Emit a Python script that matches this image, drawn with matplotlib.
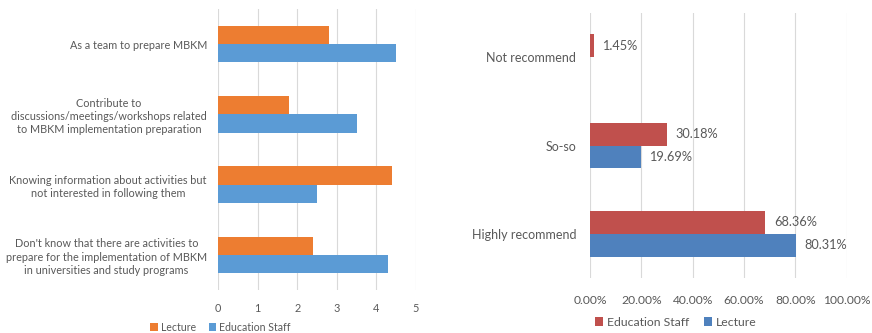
import matplotlib
matplotlib.use('Agg')
import matplotlib.pyplot as plt
import numpy as np

# Left chart data
left_categories = [
    "As a team to prepare MBKM",
    "Contribute to\ndiscussions/meetings/workshops related\nto MBKM implementation preparation",
    "Knowing information about activities but\nnot interested in following them",
    "Don't know that there are activities to\nprepare for the implementation of MBKM\nin universities and study programs",
]
left_lecture = [2.8, 1.8, 4.4, 2.4]
left_staff = [4.5, 3.5, 2.5, 4.3]
left_ticks = [0, 1, 2, 3, 4, 5]

# Right chart data
right_categories = ["Not recommend", "So-so", "Highly recommend"]
right_staff = [1.45, 30.18, 68.36]
right_lecture = [0.0, 19.69, 80.31]
right_ticks = [0, 20, 40, 60, 80, 100]

TEXT = '#595959'
GRID = '#D9D9D9'
plt.rcParams['font.family'] = ['Lato', 'DejaVu Sans']
plt.rcParams['font.size'] = 7.8

fig = plt.figure(figsize=(8.72, 3.33), dpi=100)

# ---- left chart
ax1 = fig.add_axes([0.25, 0.129, 0.227, 0.844])
y = np.arange(len(left_categories))
h = 0.26
ax1.barh(y - h / 2, left_lecture, height=h, color='#ED7D31', label='Lecture', zorder=3)
ax1.barh(y + h / 2, left_staff, height=h, color='#5B9BD5', label='Education Staff', zorder=3)
ax1.set_ylim(3.5, -0.5)
ax1.set_xlim(0, 5)
ax1.set_xticks(left_ticks)
ax1.set_yticks(y)
ax1.set_yticklabels(left_categories, multialignment='center', linespacing=1.25)
ax1.grid(axis='x', color=GRID, linewidth=0.8, zorder=0)
for s in ax1.spines.values():
    s.set_visible(False)
ax1.tick_params(length=0, colors=TEXT, labelsize=7.8)
ax1.tick_params(axis='y', pad=8)
ax1.tick_params(axis='x', pad=9)
fig.legend(handles=ax1.get_legend_handles_labels()[0], loc='center', bbox_to_anchor=(0.253, 0.018),
           ncol=2, frameon=False, handlelength=0.7, handleheight=0.7, handletextpad=0.3,
           columnspacing=1.2, labelcolor=TEXT, fontsize=7.6)

# ---- right chart
ax2 = fig.add_axes([0.6766, 0.165, 0.2944, 0.796])
y2 = np.arange(len(right_categories))
h2 = 0.26
b_staff = ax2.barh(y2 - h2 / 2, right_staff, height=h2, color='#C0504D', label='Education Staff', zorder=3)
b_lect = ax2.barh(y2 + h2 / 2, right_lecture, height=h2, color='#4F81BD', label='Lecture', zorder=3)
for bars, vals in [(b_staff, right_staff), (b_lect, right_lecture)]:
    for bar, v in zip(bars, vals):
        if v > 0:
            ax2.annotate(f'{v:.2f}%', (bar.get_width(), bar.get_y() + bar.get_height() / 2),
                         xytext=(6, 0), textcoords='offset points', va='center', ha='left',
                         color=TEXT, fontsize=9.2)
ax2.set_ylim(2.5, -0.5)
ax2.set_xlim(0, 100)
ax2.set_xticks(right_ticks)
ax2.set_xticklabels([f'{t:.2f}%' for t in right_ticks])
ax2.set_yticks(y2)
ax2.set_yticklabels(right_categories)
ax2.grid(axis='x', color=GRID, linewidth=0.8, zorder=0)
for s in ax2.spines.values():
    s.set_visible(False)
ax2.tick_params(length=0, colors=TEXT)
ax2.tick_params(axis='y', pad=10, labelsize=9)
ax2.tick_params(axis='x', pad=12, labelsize=8.7)
fig.legend(handles=ax2.get_legend_handles_labels()[0], loc='center', bbox_to_anchor=(0.775, 0.033),
           ncol=2, frameon=False, handlelength=0.7, handleheight=0.7, handletextpad=0.3,
           columnspacing=1.2, labelcolor=TEXT, fontsize=8.8)

plt.savefig('out.png', dpi=100)
